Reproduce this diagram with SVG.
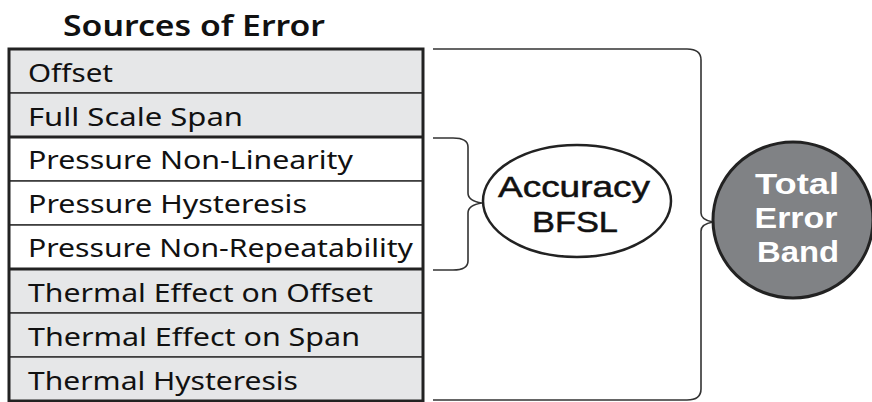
<svg xmlns="http://www.w3.org/2000/svg" width="872" height="402" viewBox="0 0 872 402">
<style>
.row-g{fill:#e6e7e8;stroke:#333;stroke-width:1.5}
.row-w{fill:#ffffff;stroke:#333;stroke-width:1.5}
.lbl{font-family:"Noto Sans","Open Sans","Liberation Sans",sans-serif;font-size:25px;fill:#111}
.title{font-family:"Noto Sans","Open Sans","Liberation Sans",sans-serif;font-size:28px;font-weight:600;fill:#111}
.brace{fill:none;stroke:#333;stroke-width:1.6}
.big{font-family:"Liberation Sans",Arial,sans-serif;font-size:30px;font-weight:700}
.acc{font-family:"Liberation Sans",Arial,sans-serif;font-size:30px;font-weight:400;fill:#111;stroke:#111;stroke-width:0.5}
</style>
<rect width="872" height="402" fill="#ffffff"/>
<text class="title" x="63" y="36" textLength="262" lengthAdjust="spacingAndGlyphs">Sources of Error</text>
<g id="sources">
<g id="row-offset"><rect class="row-g" x="9" y="49" width="414" height="44"/><text class="lbl" x="28" y="82" textLength="85" lengthAdjust="spacingAndGlyphs">Offset</text></g>
<g id="row-fss"><rect class="row-g" x="9" y="93" width="414" height="44"/><text class="lbl" x="28" y="126" textLength="215" lengthAdjust="spacingAndGlyphs">Full Scale Span</text></g>
<g id="row-pnl"><rect class="row-w" x="9" y="137" width="414" height="44"/><text class="lbl" x="28" y="169" textLength="325" lengthAdjust="spacingAndGlyphs">Pressure Non-Linearity</text></g>
<g id="row-ph"><rect class="row-w" x="9" y="181" width="414" height="44"/><text class="lbl" x="28" y="213" textLength="279" lengthAdjust="spacingAndGlyphs">Pressure Hysteresis</text></g>
<g id="row-pnr"><rect class="row-w" x="9" y="225" width="414" height="44"/><text class="lbl" x="28" y="257" textLength="385" lengthAdjust="spacingAndGlyphs">Pressure Non-Repeatability</text></g>
<g id="row-teo"><rect class="row-g" x="9" y="269" width="414" height="44"/><text class="lbl" x="28" y="302" textLength="345" lengthAdjust="spacingAndGlyphs">Thermal Effect on Offset</text></g>
<g id="row-tes"><rect class="row-g" x="9" y="313" width="414" height="44"/><text class="lbl" x="28" y="346" textLength="332" lengthAdjust="spacingAndGlyphs">Thermal Effect on Span</text></g>
<g id="row-th"><rect class="row-g" x="9" y="357" width="414" height="44"/><text class="lbl" x="28" y="390" textLength="270" lengthAdjust="spacingAndGlyphs">Thermal Hysteresis</text></g>
<rect x="9" y="49" width="414" height="352" fill="none" stroke="#222" stroke-width="3"/>
<line x1="9" y1="137" x2="423" y2="137" stroke="#222" stroke-width="3"/>
<line x1="9" y1="269" x2="423" y2="269" stroke="#222" stroke-width="3"/>
</g>
<g id="connectors">
<path class="brace" d="M433,138 H453 Q468,138 468,147 V193 Q468,201 482,203 Q468,205 468,213 V261 Q468,270 453,270 H433"/>
<path class="brace" d="M433,49 H687 Q701,49 701,60 V213 Q701,220 713,222 Q701,224 701,231 V389 Q701,400 687,400 H433"/>
</g>
<g id="accuracy">
<ellipse cx="577" cy="201" rx="94" ry="56" fill="#ffffff" stroke="#222" stroke-width="2.5"/>
<text class="acc" x="574" y="197" text-anchor="middle" textLength="152" lengthAdjust="spacingAndGlyphs">Accuracy</text>
<text class="acc" x="575" y="232" text-anchor="middle" textLength="86" lengthAdjust="spacingAndGlyphs">BFSL</text>
</g>
<g id="total">
<ellipse cx="793" cy="220" rx="80" ry="78" fill="#808285" stroke="#222" stroke-width="3"/>
<text class="big" x="797" y="194" text-anchor="middle" fill="#ffffff" textLength="84" lengthAdjust="spacingAndGlyphs">Total</text>
<text class="big" x="796" y="228" text-anchor="middle" fill="#ffffff" textLength="83" lengthAdjust="spacingAndGlyphs">Error</text>
<text class="big" x="798" y="262" text-anchor="middle" fill="#ffffff" textLength="82" lengthAdjust="spacingAndGlyphs">Band</text>
</g>
</svg>
